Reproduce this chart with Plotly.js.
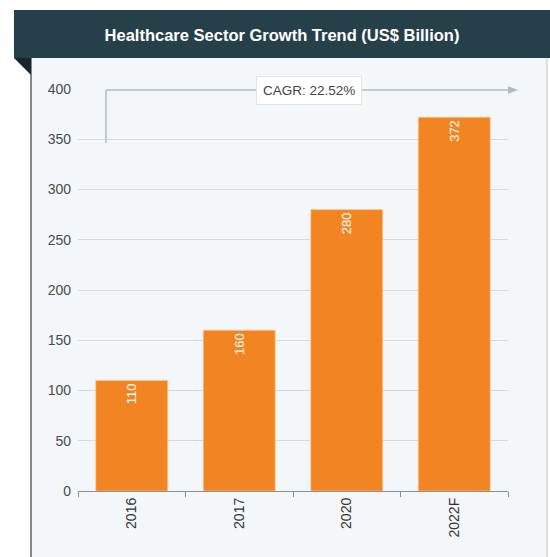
<!DOCTYPE html>
<html><head><meta charset="utf-8">
<script src="https://cdn.plot.ly/plotly-3.0.1.min.js"></script>
<style>html,body{margin:0;padding:0;background:#fff;}#chart{width:550px;height:557px;}</style>
</head><body><div id="chart"></div>
<script>
const categories = ['2016', '2017', '2020', '2022F'];
const values = [110, 160, 280, 372];
const yTicks = [0, 50, 100, 150, 200, 250, 300, 350, 400];
const chartTitle = 'Healthcare Sector Growth Trend (US$ Billion)';
const cagrLabel = 'CAGR: 22.52%';

const W = 550, H = 557;
const M = {l: 78, r: 42, t: 89, b: 66};
const pw = W - M.l - M.r, ph = H - M.t - M.b;
const px = x => (x - M.l) / pw;
const py = y => (H - M.b - y) / ph;

const shapes = [
  {type:'rect', xref:'paper', yref:'paper', x0:px(31), x1:px(548), y0:py(58), y1:py(H), fillcolor:'#f3f7fa', line:{width:0}, layer:'below'},
  {type:'line', xref:'paper', yref:'paper', x0:px(31), x1:px(31), y0:py(58), y1:py(H), line:{color:'#5a6266', width:1.5}, layer:'below'},
  {type:'line', xref:'paper', yref:'paper', x0:px(547), x1:px(547), y0:py(58), y1:py(H), line:{color:'#c8ccce', width:1}, layer:'below'},
  {type:'rect', xref:'paper', yref:'paper', x0:px(14), x1:px(551), y0:py(58), y1:py(10), fillcolor:'#26404a', line:{width:0}, layer:'below'},
  {type:'path', xref:'paper', yref:'paper', path:`M ${px(14)} ${py(58)} L ${px(31)} ${py(58)} L ${px(31)} ${py(75)} Z`, fillcolor:'#17262b', line:{width:0}},
  {type:'line', xref:'paper', yref:'paper', x0:px(106), x1:px(106), y0:py(90), y1:py(143), line:{color:'#b5bcc0', width:1.5}},
  {type:'line', xref:'paper', yref:'paper', x0:px(106), x1:px(510), y0:py(90), y1:py(90), line:{color:'#b5bcc0', width:1.5}},
  {type:'path', xref:'paper', yref:'paper', path:`M ${px(508)} ${py(86)} L ${px(518)} ${py(90)} L ${px(508)} ${py(94)} Z`, fillcolor:'#b5bcc0', line:{width:0}}
];

const trace = {
  type:'bar', x:categories, y:values,
  text: values.map(String), textposition:'inside', insidetextanchor:'end', textangle:-90,
  textfont:{color:'#ffffff', size:13, family:'Liberation Sans, Arial, sans-serif'},
  marker:{color:'#f28522', line:{color:'rgba(255,205,160,0.7)', width:1}},
  hoverinfo:'none', cliponaxis:false
};

const layout = {
  width:W, height:H, margin:M,
  paper_bgcolor:'#ffffff', plot_bgcolor:'rgba(0,0,0,0)',
  showlegend:false, bargap:0.33,
  font:{family:'Liberation Sans, Arial, sans-serif', color:'#444'},
  title:{text:'<b>'+chartTitle+'</b>', font:{color:'#ffffff', size:16.5, family:'Liberation Sans, Arial, sans-serif'},
         x:px(282), xref:'paper', xanchor:'center', y:1-35/H, yref:'container', yanchor:'middle'},
  xaxis:{type:'category', showgrid:false, showline:true, linecolor:'#8a9094', linewidth:1.2,
         ticks:'outside', tickson:'boundaries', ticklen:5, tickcolor:'#8a9094',
         tickangle:-90, tickfont:{size:14, color:'#333'}, fixedrange:true},
  yaxis:{range:[0,400], tickvals:yTicks, showgrid:true, gridcolor:'#d6dadd', gridwidth:1,
         zeroline:false, showline:false, ticks:'', ticklabelstandoff:6,
         tickfont:{size:14, color:'#4a4a4a'}, fixedrange:true},
  shapes:shapes,
  annotations:[{xref:'paper', yref:'paper', x:px(309), y:py(91), text:cagrLabel, showarrow:false,
    font:{size:13.5, color:'#444'}, bgcolor:'#ffffff', bordercolor:'#e2e5e7', borderwidth:1, borderpad:6,
    xanchor:'center', yanchor:'middle'}]
};

Plotly.newPlot('chart', [trace], layout, {displayModeBar:false, staticPlot:true});
</script></body></html>
